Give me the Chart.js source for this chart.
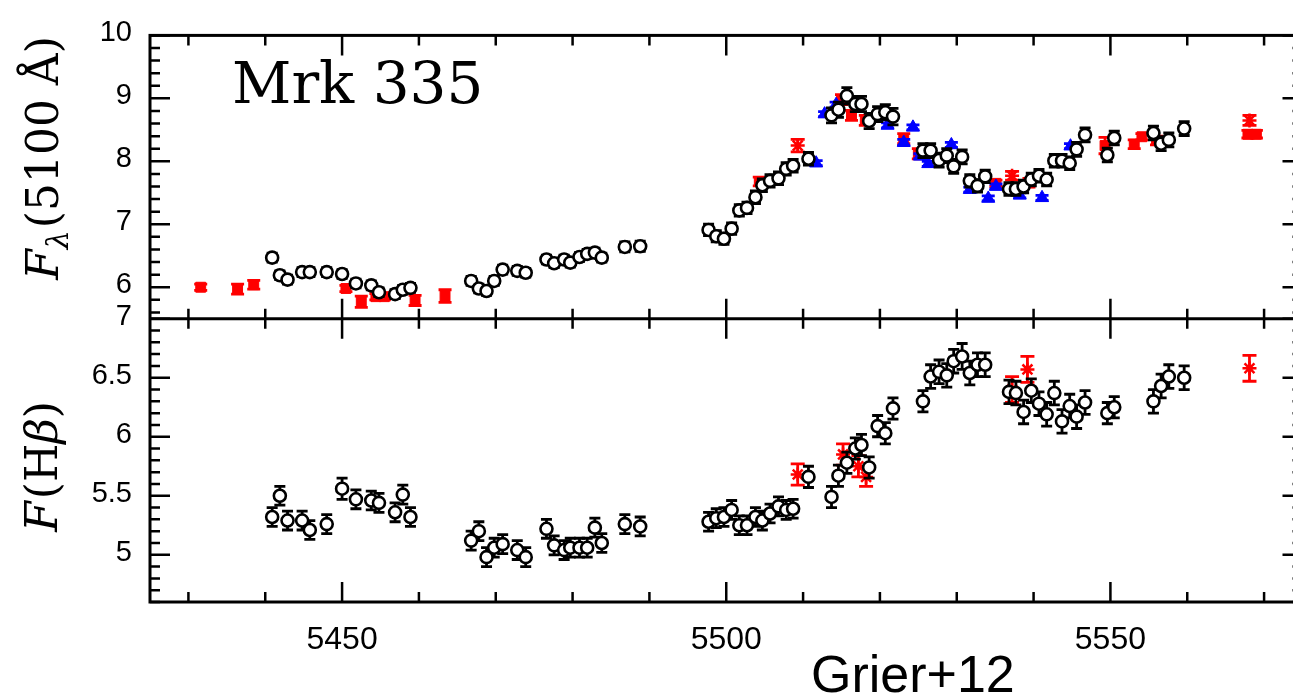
<!DOCTYPE html>
<html>
<head>
<meta charset="utf-8">
<title>Mrk 335 light curves</title>
<script src="https://cdn.jsdelivr.net/npm/chart.js@4.4.1/dist/chart.umd.min.js"></script>
<style>
  html, body { margin: 0; padding: 0; background: #fff; overflow: hidden; }
  #lc { display: block; }
</style>
</head>
<body>
<canvas id="lc" width="1312" height="695"></canvas>
<script>
// Axis ticks
const xTickValues = [5450, 5500, 5550];
const topTickValues = [6, 7, 8, 9, 10];
const botTickValues = [5, 5.5, 6, 6.5, 7];

// Nights with both continuum and H-beta measurements (HJD - 2450000)
const nights = [
  5440.9, 5441.9, 5442.9, 5444.8, 5445.8, 5448.0, 5450.0, 5451.8, 5453.8, 5454.8,
  5456.9, 5457.9, 5458.9, 5466.8, 5467.8, 5468.8, 5469.8, 5470.9, 5472.8, 5473.9,
  5476.6, 5477.6, 5478.9, 5479.7, 5480.9, 5481.9, 5482.9, 5483.8, 5486.8, 5488.8,
  5497.7, 5498.7, 5499.7, 5500.7, 5501.7, 5502.7, 5503.8, 5504.7, 5505.7, 5506.8,
  5507.8, 5508.7, 5510.7, 5513.7, 5514.6, 5515.7, 5516.8, 5517.6, 5518.6, 5519.7,
  5520.7, 5521.7, 5525.6, 5526.6, 5527.7, 5528.7, 5529.6, 5530.7, 5531.7, 5532.7,
  5533.7, 5536.8, 5537.7, 5538.7, 5539.7, 5540.7, 5541.7, 5542.7, 5543.7, 5544.7,
  5545.6, 5546.7, 5549.6, 5550.5, 5555.6, 5556.6, 5557.6, 5559.6
];

// 5100 A continuum flux
const contFlux = [
  6.47, 6.19, 6.12, 6.24, 6.24, 6.24, 6.21, 6.06, 6.03, 5.92,
  5.89, 5.96, 5.99, 6.10, 5.98, 5.94, 6.10, 6.28, 6.26, 6.23,
  6.44, 6.38, 6.44, 6.39, 6.48, 6.53, 6.55, 6.47, 6.64, 6.65,
  6.91, 6.81, 6.77, 6.93, 7.22, 7.26, 7.43, 7.62, 7.69, 7.73,
  7.88, 7.93, 8.04, 8.73, 8.82, 9.04, 8.91, 8.91, 8.64, 8.75,
  8.78, 8.71, 8.17, 8.17, 8.02, 8.09, 7.92, 8.07, 7.69, 7.61,
  7.76, 7.56, 7.56, 7.60, 7.71, 7.77, 7.71, 8.01, 8.01, 7.97,
  8.19, 8.42, 8.10, 8.37, 8.45, 8.28, 8.34, 8.52
];
const contErr = [
  0.07, 0.07, 0.07, 0.07, 0.07, 0.07, 0.07, 0.07, 0.07, 0.07,
  0.07, 0.07, 0.07, 0.07, 0.07, 0.07, 0.07, 0.07, 0.07, 0.07,
  0.07, 0.07, 0.07, 0.07, 0.07, 0.07, 0.07, 0.07, 0.08, 0.08,
  0.09, 0.09, 0.09, 0.09, 0.09, 0.09, 0.10, 0.10, 0.10, 0.10,
  0.10, 0.10, 0.10, 0.12, 0.12, 0.13, 0.12, 0.12, 0.12, 0.12,
  0.12, 0.13, 0.11, 0.11, 0.11, 0.11, 0.11, 0.11, 0.10, 0.10,
  0.10, 0.10, 0.10, 0.10, 0.10, 0.10, 0.10, 0.10, 0.10, 0.10,
  0.11, 0.11, 0.11, 0.11, 0.11, 0.11, 0.11, 0.11
];

// H-beta line flux
const hbFlux = [
  5.32, 5.50, 5.29, 5.29, 5.21, 5.26, 5.56, 5.47, 5.46, 5.44,
  5.36, 5.51, 5.32, 5.12, 5.20, 4.98, 5.06, 5.09, 5.04, 4.98,
  5.22, 5.08, 5.04, 5.06, 5.06, 5.06, 5.23, 5.10, 5.26, 5.24,
  5.28, 5.31, 5.32, 5.38, 5.25, 5.25, 5.32, 5.29, 5.35, 5.41,
  5.38, 5.39, 5.66, 5.49, 5.67, 5.78, 5.90, 5.93, 5.74, 6.09,
  6.03, 6.24, 6.30, 6.51, 6.55, 6.52, 6.64, 6.68, 6.54, 6.61,
  6.61, 6.38, 6.37, 6.21, 6.39, 6.28, 6.19, 6.37, 6.13, 6.26,
  6.17, 6.29, 6.20, 6.25, 6.30, 6.43, 6.51, 6.50
];
const hbErr = [
  0.08, 0.08, 0.08, 0.08, 0.08, 0.08, 0.09, 0.08, 0.08, 0.08,
  0.08, 0.08, 0.08, 0.08, 0.08, 0.08, 0.08, 0.08, 0.08, 0.08,
  0.08, 0.08, 0.08, 0.08, 0.08, 0.08, 0.08, 0.08, 0.08, 0.08,
  0.08, 0.08, 0.08, 0.08, 0.08, 0.08, 0.08, 0.08, 0.08, 0.08,
  0.08, 0.08, 0.09, 0.09, 0.09, 0.09, 0.09, 0.09, 0.09, 0.09,
  0.09, 0.09, 0.09, 0.10, 0.10, 0.10, 0.10, 0.11, 0.10, 0.10,
  0.10, 0.10, 0.10, 0.10, 0.10, 0.10, 0.10, 0.10, 0.10, 0.10,
  0.10, 0.10, 0.09, 0.09, 0.10, 0.10, 0.10, 0.10
];

// Continuum from other sources
const squareDays = [5431.6, 5436.4, 5438.5, 5450.5, 5452.5, 5454.4, 5455.5, 5459.5, 5463.4, 5504.3,
                    5515.0, 5516.3, 5518.1, 5523.1, 5525.0, 5535.1, 5539.4, 5549.3, 5553.1, 5554.1,
                    5556.0, 5567.9, 5569.0];
const squareFlux = [6.00, 5.97, 6.04, 5.98, 5.77, 5.85, 5.85, 5.79, 5.86, 7.68,
                    8.98, 8.73, 8.65, 8.36, 8.12, 7.65, 7.66, 8.25, 8.27, 8.39,
                    8.33, 8.43, 8.43];
const squareErr = [0.05, 0.08, 0.07, 0.05, 0.09, 0.05, 0.05, 0.08, 0.10, 0.07,
                   0.08, 0.08, 0.08, 0.08, 0.08, 0.05, 0.07, 0.13, 0.07, 0.05,
                   0.07, 0.06, 0.06];

const triDays = [5511.7, 5512.8, 5514.3, 5521.0, 5523.1, 5524.3, 5525.2, 5526.3, 5529.3, 5531.7,
                 5534.1, 5535.1, 5538.2, 5541.1, 5544.8];
const triFlux = [7.97, 8.75, 8.90, 8.57, 8.30, 8.54, 8.08, 7.96, 8.26, 7.55,
                 7.41, 7.60, 7.46, 7.42, 8.24];
const triErr = [0.04, 0.04, 0.04, 0.04, 0.05, 0.04, 0.04, 0.04, 0.04, 0.04,
                0.04, 0.04, 0.04, 0.04, 0.04];

const starDays = [5509.3, 5537.2, 5568.1];
const starFlux = [8.25, 7.77, 8.65];
const starErr = [0.10, 0.07, 0.08];

// H-beta from other sources
const hbStarDays = [5509.3, 5515.2, 5517.2, 5518.2, 5537.2, 5539.2, 5568.1];
const hbStarFlux = [5.68, 5.85, 5.75, 5.66, 6.40, 6.57, 6.58];
const hbStarErr = [0.09, 0.09, 0.09, 0.08, 0.11, 0.11, 0.11];

const xMinorStep = 10, xMajorStep = 50;
const topMinorStep = 0.2, topMajorStep = 1;
const botMinorStep = 0.1, botMajorStep = 0.5;

const RED = '#ff0000', BLUE = '#0000ff', BLACK = '#000000';
const SANS = "'Liberation Sans', Arial, Helvetica, sans-serif";
const SERIF = "'DejaVu Serif', 'Liberation Serif', serif";

const pts = (xs, ys) => xs.map((x, i) => ({ x: x, y: ys[i] }));

// error bars are drawn just before each dataset's markers
const errorBars = {
  id: 'errorBars',
  beforeDatasetDraw(chart, args) {
    const ds = chart.data.datasets[args.index];
    if (!ds.errors) return;
    const ctx = chart.ctx;
    const yScale = chart.scales[args.meta.yAxisID];
    const cap = ds.capWidth || 5;
    ctx.save();
    ctx.strokeStyle = ds.borderColor;
    ctx.lineWidth = 2.8;
    args.meta.data.forEach((el, i) => {
      const v = ds.data[i].y, e = ds.errors[i];
      const hi = yScale.getPixelForValue(v + e);
      const lo = yScale.getPixelForValue(v - e);
      ctx.beginPath();
      ctx.moveTo(el.x, hi); ctx.lineTo(el.x, lo);
      ctx.moveTo(el.x - cap, hi); ctx.lineTo(el.x + cap, hi);
      ctx.moveTo(el.x - cap, lo); ctx.lineTo(el.x + cap, lo);
      ctx.stroke();
    });
    ctx.restore();
  }
};

// boxed panels with inward ticks on every side
const panelFrame = {
  id: 'panelFrame',
  afterDraw(chart) {
    const { ctx, chartArea: a, scales } = chart;
    const xs = scales.x, yT = scales.yTop, yB = scales.yBot;
    const line = (x0, y0, x1, y1) => { ctx.moveTo(x0, y0); ctx.lineTo(x1, y1); };
    const isMulti = (v, step) => Math.abs(v / step - Math.round(v / step)) < 1e-6;
    ctx.save();
    ctx.strokeStyle = BLACK;
    ctx.lineWidth = 2.5;
    ctx.beginPath();
    for (let k = Math.ceil(xs.min / xMinorStep); k * xMinorStep <= xs.max; k++) {
      const v = k * xMinorStep;
      const px = xs.getPixelForValue(v);
      const len = isMulti(v, xMajorStep) ? 20 : 10;
      line(px, yT.top, px, yT.top + len);
      line(px, yT.bottom, px, yT.bottom - len);
      line(px, yB.top, px, yB.top + len);
      line(px, yB.bottom, px, yB.bottom - len);
    }
    [[yT, topMinorStep, topMajorStep], [yB, botMinorStep, botMajorStep]].forEach(([s, minor, major]) => {
      for (let k = Math.ceil(s.min / minor - 1e-6); k * minor <= s.max + 1e-6; k++) {
        const v = k * minor;
        const py = s.getPixelForValue(v);
        const len = isMulti(v, major) ? 20 : 10;
        line(a.left, py, a.left + len, py);
        line(a.right, py, a.right - len, py);
      }
    });
    ctx.stroke();
    ctx.lineWidth = 3;
    ctx.strokeRect(a.left, a.top, a.right - a.left, a.bottom - a.top);
    ctx.beginPath();
    line(a.left, yT.bottom, a.right, yT.bottom);
    ctx.stroke();
    ctx.restore();
  }
};

// draws a run of differently styled pieces of text along the baseline
function richText(ctx, parts, x, y, angle) {
  ctx.save();
  ctx.translate(x, y);
  ctx.rotate(angle);
  let total = 0;
  parts.forEach(p => { ctx.font = p.font; p.w = ctx.measureText(p.text).width; total += p.w + (p.gap || 0); });
  let cx = -total / 2;
  ctx.fillStyle = BLACK;
  ctx.textBaseline = 'alphabetic';
  parts.forEach(p => {
    ctx.font = p.font;
    ctx.fillText(p.text, cx, p.dy || 0);
    cx += p.w + (p.gap || 0);
  });
  ctx.restore();
}

const labels = {
  id: 'labels',
  afterDraw(chart) {
    const ctx = chart.ctx;
    const yB = chart.scales.yBot;
    ctx.save();
    ctx.fillStyle = BLACK;
    ctx.textBaseline = 'alphabetic';
    ctx.font = '58px ' + SERIF;
    ctx.fillText('Mrk 335', 232, 103);
    ctx.font = '52px ' + SANS;
    ctx.fillText('Grier+12', 811, 692);
    ctx.restore();

    richText(ctx, [
      { text: 'F', font: 'italic 44px ' + SERIF },
      { text: 'λ', font: 'italic 30px ' + SERIF, dy: 10, gap: 2 },
      { text: '(5100 Å)', font: '44px ' + SERIF }
    ], 58, 158, -Math.PI / 2);

    richText(ctx, [
      { text: 'F', font: 'italic 44px ' + SERIF, gap: 2 },
      { text: '(H', font: '44px ' + SERIF },
      { text: 'β', font: 'italic 44px ' + SERIF },
      { text: ')', font: '44px ' + SERIF }
    ], 57, (yB.top + yB.bottom) / 2 + 6, -Math.PI / 2);
  }
};

const fixedTicks = values => scale => { scale.ticks = values.map(v => ({ value: v })); };

const yAxis = (min, max, tickValues) => ({
  type: 'linear',
  position: 'left',
  stack: 'panels',
  stackWeight: 1,
  min: min,
  max: max,
  grid: { display: false, drawTicks: false },
  border: { display: false },
  ticks: {
    color: BLACK,
    font: { family: SANS, size: 29 },
    padding: 18,
    labelOffset: -2,
    autoSkip: false,
    callback: v => String(v)
  },
  afterBuildTicks: fixedTicks(tickValues),
  afterFit: s => { s.width = 150; }
});

new Chart(document.getElementById('lc'), {
  type: 'scatter',
  data: {
    datasets: [
      {
        label: 'continuum', data: pts(nights, contFlux), errors: contErr, yAxisID: 'yTop',
        pointStyle: 'circle', pointRadius: 6, pointHoverRadius: 6, borderWidth: 2.6,
        borderColor: BLACK, backgroundColor: '#ffffff', capWidth: 5.5
      },
      {
        label: 'H-beta', data: pts(nights, hbFlux), errors: hbErr, yAxisID: 'yBot',
        pointStyle: 'circle', pointRadius: 6, pointHoverRadius: 6, borderWidth: 2.6,
        borderColor: BLACK, backgroundColor: '#ffffff', capWidth: 5.5
      },
      {
        label: 'continuum (asterisks)', data: pts(starDays, starFlux), errors: starErr, yAxisID: 'yTop',
        pointStyle: 'star', pointRadius: 7, pointHoverRadius: 7, borderWidth: 2.5,
        borderColor: RED, backgroundColor: RED, capWidth: 7
      },
      {
        label: 'H-beta (asterisks)', data: pts(hbStarDays, hbStarFlux), errors: hbStarErr, yAxisID: 'yBot',
        pointStyle: 'star', pointRadius: 7, pointHoverRadius: 7, borderWidth: 2.5,
        borderColor: RED, backgroundColor: RED, capWidth: 7
      },
      {
        label: 'continuum (triangles)', data: pts(triDays, triFlux), errors: triErr, yAxisID: 'yTop',
        pointStyle: 'triangle', pointRadius: 7.5, pointHoverRadius: 7.5, borderWidth: 1,
        borderColor: BLUE, backgroundColor: BLUE, capWidth: 6.5
      },
      {
        label: 'continuum (squares)', data: pts(squareDays, squareFlux), errors: squareErr, yAxisID: 'yTop',
        pointStyle: 'rect', pointRadius: 7, pointHoverRadius: 7, borderWidth: 1,
        borderColor: RED, backgroundColor: RED, capWidth: 6.5
      }
    ]
  },
  options: {
    responsive: false,
    animation: false,
    devicePixelRatio: 1,
    layout: { padding: { top: 23, right: 2, left: 0, bottom: 0 } },
    plugins: { legend: { display: false }, tooltip: { enabled: false } },
    scales: {
      x: {
        type: 'linear',
        position: 'bottom',
        min: 5425,
        max: 5575,
        grid: { display: false, drawTicks: false },
        border: { display: false },
        ticks: {
          color: BLACK,
          font: { family: SANS, size: 32 },
          padding: 19,
          autoSkip: false,
          maxRotation: 0,
          callback: v => String(v)
        },
        afterBuildTicks: fixedTicks(xTickValues),
        afterFit: s => { s.height = 93; }
      },
      // left boxes in a stack are laid out in reverse, so the lower panel comes first
      yBot: yAxis(4.6, 7, botTickValues),
      yTop: yAxis(5.5, 10, topTickValues)
    }
  },
  plugins: [errorBars, panelFrame, labels]
});
</script>
</body>
</html>
